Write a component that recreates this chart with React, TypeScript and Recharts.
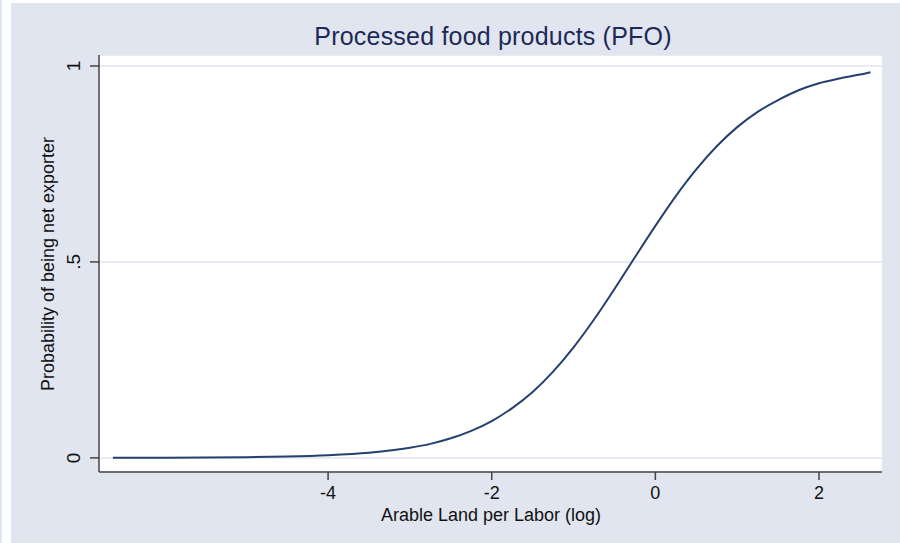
import { LineChart, Line, XAxis, YAxis, CartesianGrid, Label } from 'recharts';

// values
const xValues = [-6.63, -6, -5.5, -5, -4.5, -4, -3.5, -3, -2.75, -2.5, -2.25, -2, -1.75, -1.5, -1.25, -1, -0.75, -0.5, -0.25, 0, 0.25, 0.5, 0.75, 1, 1.25, 1.5, 1.75, 2, 2.25, 2.5, 2.63];
const probValues = [0.0002, 0.0005, 0.001, 0.0019, 0.0036, 0.007, 0.0134, 0.0258, 0.0357, 0.05, 0.069, 0.094, 0.127, 0.168, 0.22, 0.282, 0.353, 0.431, 0.512, 0.592, 0.668, 0.736, 0.795, 0.844, 0.883, 0.913, 0.938, 0.956, 0.968, 0.978, 0.984];
const xTicks = [-4, -2, 0, 2];
const yTicks = [0, 0.5, 1];
const yTickLabels = ['0', '.5', '1'];

const data = xValues.map((x, i) => ({ x, p: probValues[i] }));

const FONT = '"Liberation Sans", Arial, sans-serif';
const BG = '#e1e5f0';
const AXIS = '#444';

const YTick = (props: any) => {
  const { y, payload } = props;
  const label = yTickLabels[yTicks.indexOf(payload.value)];
  return (
    <text x={74} y={y} transform={`rotate(-90 74 ${y})`} textAnchor="middle" dominantBaseline="central"
      fontSize={19} fontFamily={FONT} fill="#111">
      {label}
    </text>
  );
};

const XTick = (props: any) => {
  const { x, payload } = props;
  return (
    <text x={x} y={499} textAnchor="middle" fontSize={18} fontFamily={FONT} fill="#111">
      {payload.value}
    </text>
  );
};

export default function App() {
  return (
    <div style={{ position: 'absolute', left: 0, top: 0, width: 900, height: 543, background: '#fff', overflow: 'hidden' }}>
      <div style={{ position: 'absolute', left: 0, top: 0, width: 2, height: 543, background: BG }} />
      <div style={{ position: 'absolute', left: 11, top: 3, width: 889, height: 540, background: BG }} />
      <div style={{
        position: 'absolute', left: 0, top: 24, width: 986, textAlign: 'center',
        fontFamily: FONT, fontSize: 25, lineHeight: '25px', color: '#1c2a55', letterSpacing: 0.2,
      }}>
        Processed food products (PFO)
      </div>
      <div style={{ position: 'absolute', left: 0, top: 0 }}>
        <LineChart width={900} height={543} data={data} margin={{ top: 55, right: 18, bottom: 0, left: 0 }}>
          <CartesianGrid vertical={false} fill="#ffffff" stroke={BG} strokeWidth={1.5} />
          <XAxis type="number" dataKey="x" domain={[-6.8, 2.77]} ticks={xTicks} allowDataOverflow
            height={71} tickSize={8} stroke={AXIS} strokeWidth={1.5} tick={<XTick />}>
            <Label content={() => (
              <text x={491} y={521} textAnchor="middle" fontSize={18} fontFamily={FONT} fill="#111">
                Arable Land per Labor (log)
              </text>
            )} />
          </XAxis>
          <YAxis type="number" domain={[-0.036, 1.028]} ticks={yTicks} allowDataOverflow
            width={99} tickSize={9} stroke={AXIS} strokeWidth={1.5} tick={<YTick />}>
            <Label content={() => (
              <text x={48} y={264} transform="rotate(-90 48 264)" textAnchor="middle" dominantBaseline="central"
                fontSize={18} fontFamily={FONT} fill="#111">
                Probability of being net exporter
              </text>
            )} />
          </YAxis>
          <Line type="monotone" dataKey="p" stroke="#25406f" strokeWidth={2} dot={false} isAnimationActive={false} />
        </LineChart>
      </div>
    </div>
  );
}
